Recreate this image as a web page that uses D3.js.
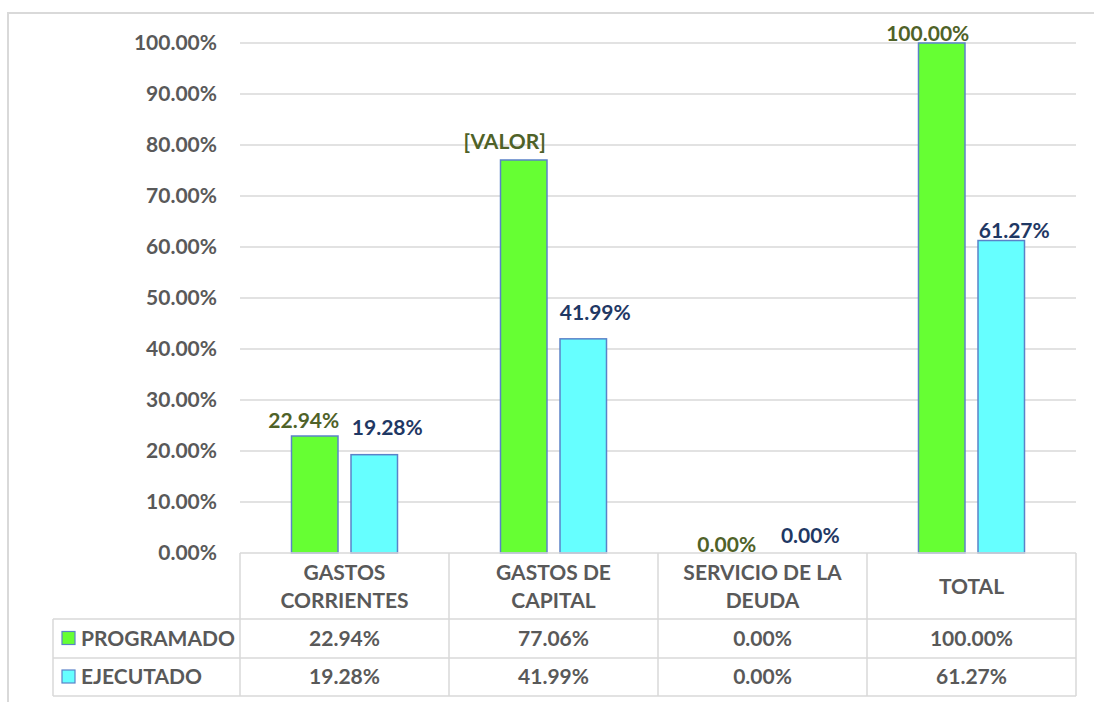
<!DOCTYPE html>
<html>
<head>
<meta charset="utf-8">
<script src="https://cdn.jsdelivr.net/npm/d3@7"></script>
<style>
  body { margin: 0; background: #fff; }
  svg text { font-family: Lato, "Open Sans", sans-serif; font-weight: bold; }
</style>
</head>
<body>
<script>
// Chart data
const categories = ["GASTOS CORRIENTES", "GASTOS DE CAPITAL", "SERVICIO DE LA DEUDA", "TOTAL"];
const categoryLines = [["GASTOS", "CORRIENTES"], ["GASTOS DE", "CAPITAL"], ["SERVICIO DE LA", "DEUDA"], ["TOTAL"]];
const seriesNames = ["PROGRAMADO", "EJECUTADO"];
const programado = [22.94, 77.06, 0.00, 100.00];
const ejecutado = [19.28, 41.99, 0.00, 61.27];
// the chart shows a placeholder on one label
const programadoLabels = ["22.94%", "[VALOR]", "0.00%", "100.00%"];
const ejecutadoLabels = ["19.28%", "41.99%", "0.00%", "61.27%"];
const yTicks = [0, 10, 20, 30, 40, 50, 60, 70, 80, 90, 100];

// manual label nudges (dx, dy from bar top), as placed in the original
const labelNudge = {
  PROGRAMADO: [[-11, -8], [-19, -11], [-6, -1], [-14, -2]],
  EJECUTADO: [[13, -20], [12, -19], [18, -10], [13, -3]]
};

const colors = { PROGRAMADO: "#66FF33", EJECUTADO: "#66FFFF" };
const labelColors = { PROGRAMADO: "#4F6228", EJECUTADO: "#1F3864" };
const textGray = "#595959";
const lineGray = "#D9D9D9";

function drawChart() {
  const W = 1094, H = 702;
  const plot = { left: 240, right: 1076, top: 43, bottom: 553 };
  const rows = { head: 619, r1: 658, r2: 696 };

  const svg = d3.select("body").append("svg")
    .attr("width", W)
    .attr("height", H);

  // outer frame
  svg.append("rect")
    .attr("x", 8).attr("y", 13)
    .attr("width", 1100).attr("height", 720)
    .attr("fill", "none")
    .attr("stroke", lineGray)
    .attr("stroke-width", 2);

  const x0 = d3.scaleBand()
    .domain(categories)
    .range([plot.left, plot.right]);

  const x1 = d3.scaleBand()
    .domain(seriesNames)
    .range([51.5, 157.5])
    .paddingInner(0.2185);

  const y = d3.scaleLinear()
    .domain([0, 100])
    .range([plot.bottom, plot.top]);

  // gridlines
  svg.append("g")
    .selectAll("line")
    .data(yTicks.filter(d => d > 0))
    .enter()
    .append("line")
    .attr("x1", plot.left)
    .attr("x2", plot.right)
    .attr("y1", d => y(d))
    .attr("y2", d => y(d))
    .attr("stroke", lineGray)
    .attr("stroke-width", 1.5);

  // y axis
  const yAxis = svg.append("g")
    .attr("transform", `translate(${plot.left}, 0)`)
    .call(d3.axisLeft(y)
      .tickValues(yTicks)
      .tickSize(0)
      .tickPadding(23)
      .tickFormat(d => d.toFixed(2) + "%"));
  yAxis.select(".domain").remove();
  yAxis.selectAll("text")
    .attr("fill", textGray)
    .style("font-size", "21px")
    .style("font-family", "Lato, sans-serif")
    .style("font-weight", "bold");

  const series = [
    { name: "PROGRAMADO", values: programado, labels: programadoLabels },
    { name: "EJECUTADO", values: ejecutado, labels: ejecutadoLabels }
  ];

  // bars
  series.forEach(s => {
    svg.append("g")
      .selectAll("rect")
      .data(s.values)
      .enter()
      .append("rect")
      .attr("x", (d, i) => x0(categories[i]) + x1(s.name))
      .attr("y", d => y(d))
      .attr("width", x1.bandwidth())
      .attr("height", d => y(0) - y(d))
      .attr("fill", colors[s.name])
      .attr("stroke", d => d > 0 ? "#5B82C8" : "none")
      .attr("stroke-width", 1.5);
  });

  // data labels
  series.forEach(s => {
    svg.append("g")
      .selectAll("text")
      .data(s.values)
      .enter()
      .append("text")
      .attr("x", (d, i) => x0(categories[i]) + x1(s.name) + x1.bandwidth() / 2 + labelNudge[s.name][i][0])
      .attr("y", (d, i) => y(d) + labelNudge[s.name][i][1])
      .attr("text-anchor", "middle")
      .attr("fill", labelColors[s.name])
      .style("font-size", "21px")
      .text((d, i) => s.labels[i]);
  });

  // data table
  const table = svg.append("g")
    .attr("stroke", lineGray)
    .attr("stroke-width", 1.5);

  table.append("line")
    .attr("x1", plot.left).attr("x2", plot.right)
    .attr("y1", plot.bottom).attr("y2", plot.bottom);
  [rows.head, rows.r1, rows.r2].forEach(yy => {
    table.append("line")
      .attr("x1", 53).attr("x2", plot.right)
      .attr("y1", yy).attr("y2", yy);
  });
  table.append("line")
    .attr("x1", 53).attr("x2", 53)
    .attr("y1", rows.head).attr("y2", rows.r2);
  categories.concat(["end"]).forEach((c, i) => {
    const xx = i < categories.length ? x0(c) : plot.right;
    table.append("line")
      .attr("x1", xx).attr("x2", xx)
      .attr("y1", plot.bottom).attr("y2", rows.r2);
  });

  // category headers
  categories.forEach((c, i) => {
    const lines = categoryLines[i];
    const cx = x0(c) + x0.bandwidth() / 2;
    const t = svg.append("text")
      .attr("text-anchor", "middle")
      .attr("fill", textGray)
      .style("font-size", "21px");
    lines.forEach((ln, j) => {
      t.append("tspan")
        .attr("x", cx)
        .attr("y", lines.length === 1 ? 594 : 580 + j * 28)
        .text(ln);
    });
  });

  // table rows
  const rowBase = [645.5, 684];
  series.forEach((s, r) => {
    svg.append("rect")
      .attr("x", 62).attr("y", rowBase[r] - 14)
      .attr("width", 13).attr("height", 13)
      .attr("fill", colors[s.name])
      .attr("stroke", "#5B82C8")
      .attr("stroke-width", 1.2);
    svg.append("text")
      .attr("x", 81).attr("y", rowBase[r])
      .attr("fill", textGray)
      .style("font-size", "21px")
      .text(s.name);
    svg.append("g")
      .selectAll("text")
      .data(s.values)
      .enter()
      .append("text")
      .attr("x", (d, i) => x0(categories[i]) + x0.bandwidth() / 2)
      .attr("y", rowBase[r])
      .attr("text-anchor", "middle")
      .attr("fill", textGray)
      .style("font-size", "21px")
      .text(d => d.toFixed(2) + "%");
  });
}

window.onload = () => drawChart();
</script>
</body>
</html>
